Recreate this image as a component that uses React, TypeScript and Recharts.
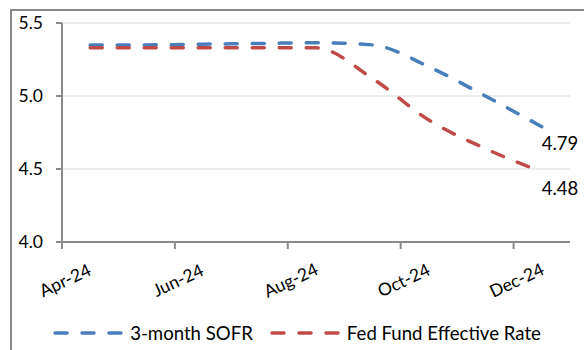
import React from 'react';
import { LineChart, Line, XAxis, YAxis, CartesianGrid, Legend, LabelList } from 'recharts';

const months = ['Apr-24', 'May-24', 'Jun-24', 'Jul-24', 'Aug-24', 'Sep-24', 'Oct-24', 'Nov-24', 'Dec-24'];
const sofr = [5.35, 5.35, 5.355, 5.36, 5.365, 5.35, 5.2, 5.0, 4.79];
const ffr = [5.33, 5.33, 5.33, 5.33, 5.33, 5.12, 4.835, 4.64, 4.48];
const yTicks = [4.0, 4.5, 5.0, 5.5];
const xTicks = [0, 2, 4, 6, 8];
const seriesNames = ['3-month SOFR', 'Fed Fund Effective Rate'];

const BLUE = '#4A7EBB';
const RED = '#BE4B48';
const FONT = 'Lato, "Open Sans", sans-serif';

const data = months.map((m, i) => ({ x: i + 0.5, month: m, sofr: sofr[i], ffr: ffr[i] }));

const XTick = (props: any) => {
  const { x, y, payload } = props;
  const label = months[payload.value];
  const cx = x + 3;
  const cy = y + 31;
  return (
    <text
      x={cx}
      y={cy}
      transform={`rotate(-25, ${cx}, ${cy})`}
      textAnchor="middle"
      dominantBaseline="central"
      fontFamily={FONT}
      fontSize={17.5}
      fill="#000"
    >
      {label}
    </text>
  );
};

const EndLabel = (props: any) => {
  const { x, y, index, value } = props;
  if (index !== months.length - 1) return null;
  return (
    <text x={x} y={y + 16} textAnchor="start" dominantBaseline="central" fontFamily={FONT} fontSize={18.5} fill="#000">
      {Number(value).toFixed(2)}
    </text>
  );
};

const LegendContent = () => {
  const colors = [BLUE, RED];
  return (
    <div
      style={{
        display: 'flex',
        justifyContent: 'center',
        alignItems: 'center',
        height: 20,
        width: 584,
        paddingLeft: 10,
        boxSizing: 'border-box',
        fontFamily: FONT,
        fontSize: 18.6,
        color: '#000',
      }}
    >
      {seriesNames.map((n, i) => (
        <div key={n} style={{ display: 'flex', alignItems: 'center', marginRight: i === 0 ? 17 : 0 }}>
          <svg width={70} height={8} style={{ marginRight: 7 }}>
            <line x1={2} y1={4} x2={70} y2={4} stroke={colors[i]} strokeWidth={3.5} strokeDasharray="12 15" strokeLinecap="round" />
          </svg>
          <span style={{ whiteSpace: 'nowrap' }}>{n}</span>
        </div>
      ))}
    </div>
  );
};

export default function App() {
  return (
    <div style={{ position: 'absolute', left: 0, top: 0, width: 584, height: 350, overflow: 'hidden', background: '#fff' }}>
      <div
        style={{
          position: 'absolute',
          left: 10,
          top: 9,
          width: 700,
          height: 500,
          border: '2px solid #8a8a8a',
        }}
      />
      <LineChart width={584} height={350} data={data} margin={{ top: 23, right: 14, left: 0, bottom: 7 }}>
        <CartesianGrid vertical={false} stroke="#e6e6e6" strokeWidth={1.5} />
        <XAxis
          dataKey="x"
          type="number"
          domain={[0, 9]}
          ticks={xTicks}
          interval={0}
          height={81}
          tick={<XTick />}
          tickSize={7}
          tickMargin={0}
          axisLine={{ stroke: '#8a8a8a', strokeWidth: 2 }}
          tickLine={{ stroke: '#8a8a8a', strokeWidth: 2 }}
        />
        <YAxis
          type="number"
          domain={[4, 5.5]}
          ticks={yTicks}
          interval={0}
          width={62}
          tickSize={6}
          tickMargin={13}
          tickFormatter={(v: number) => v.toFixed(1)}
          tick={{ fontFamily: FONT, fontSize: 17.5, fill: '#000' }}
          axisLine={{ stroke: '#8a8a8a', strokeWidth: 2 }}
          tickLine={{ stroke: '#8a8a8a', strokeWidth: 2 }}
        />
        <Legend verticalAlign="bottom" content={<LegendContent />} wrapperStyle={{ left: 0, width: 584 }} />
        <Line
          name={seriesNames[0]}
          type="monotone"
          dataKey="sofr"
          stroke={BLUE}
          strokeWidth={3.5}
          strokeDasharray="12 15"
          strokeLinecap="round"
          dot={false}
          activeDot={false}
          isAnimationActive={false}
        >
          <LabelList dataKey="sofr" content={<EndLabel />} />
        </Line>
        <Line
          name={seriesNames[1]}
          type="monotone"
          dataKey="ffr"
          stroke={RED}
          strokeWidth={3.5}
          strokeDasharray="12 15"
          strokeLinecap="round"
          dot={false}
          activeDot={false}
          isAnimationActive={false}
        >
          <LabelList dataKey="ffr" content={<EndLabel />} />
        </Line>
      </LineChart>
    </div>
  );
}
